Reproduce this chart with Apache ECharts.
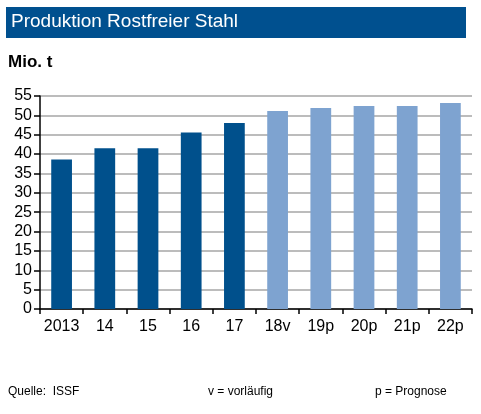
<!DOCTYPE html>
<html>
<head>
<meta charset="utf-8">
<script src="https://cdn.jsdelivr.net/npm/echarts@6/dist/echarts.min.js"></script>
<style>
html,body{margin:0;padding:0;background:#fff;}
#main{width:481px;height:414px;}
</style>
</head>
<body>
<div id="main"></div>
<script>
// Daten (Mio. t)
var years = ['2013','14','15','16','17','18v','19p','20p','21p','22p'];
var production = [38.6, 41.5, 41.5, 45.6, 48.0, 51.1, 51.9, 52.4, 52.4, 53.2];
var isForecast = [false, false, false, false, false, true, true, true, true, true];

var myChart = echarts.init(document.getElementById('main'));
var font = 'Liberation Sans, Arial, sans-serif';

var option = {
	backgroundColor:'#fff',
	animation:false,
	graphic:[
		{type:'rect',left:6,top:7,shape:{width:460,height:31},style:{fill:'#00508f'}},
		{type:'text',left:11,top:12,style:{text:'Produktion Rostfreier Stahl',fill:'#fff',font:'19px '+font}},
		{type:'text',left:8,top:54,style:{text:'Mio. t',fill:'#000',font:'bold 17px '+font}},
		{type:'text',left:8,top:386,style:{text:'Quelle:  ISSF',fill:'#000',font:'12px '+font}},
		{type:'text',left:208,top:386,style:{text:'v = vorläufig',fill:'#000',font:'12px '+font}},
		{type:'text',left:375,top:386,style:{text:'p = Prognose',fill:'#000',font:'12px '+font}}
	],
	grid:{left:40,right:9,top:96,bottom:105},
	xAxis:{
		type:'category',
		data:years,
		axisLine:{lineStyle:{color:'#000',width:1.5}},
		axisTick:{show:true,length:5,lineStyle:{color:'#000',width:1.5}},
		axisLabel:{color:'#000',fontSize:16,fontFamily:font,margin:10,interval:0},
		splitLine:{show:false}
	},
	yAxis:{
		type:'value',
		min:0,
		max:55,
		interval:5,
		axisLine:{show:true,lineStyle:{color:'#000',width:1.5}},
		axisTick:{show:true,length:6,lineStyle:{color:'#000',width:1.5}},
		axisLabel:{color:'#000',fontSize:16,fontFamily:font,margin:8},
		splitLine:{lineStyle:{color:'#a6a6a6',width:1.5}}
	},
	series:[
		{
			name:'Produktion',
			type:'bar',
			barWidth:'48%',
			itemStyle:{
				color:function(p){ return isForecast[p.dataIndex] ? '#7ea3d0' : '#00508c'; }
			},
			data:production
		}
	]
};

myChart.setOption(option);
</script>
</body>
</html>
